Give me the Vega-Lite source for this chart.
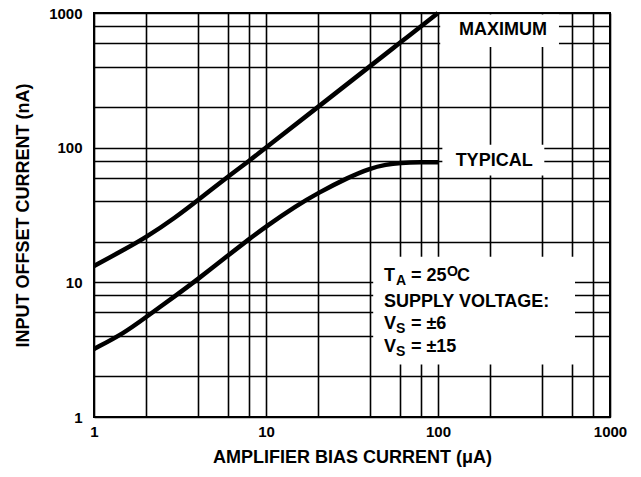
{
  "$schema": "https://vega.github.io/schema/vega-lite/v6.json",
  "width": 516,
  "height": 404,
  "autosize": {"type": "none"},
  "padding": {"left": 94, "top": 13, "right": 31, "bottom": 60},
  "background": "white",
  "config": {
    "view": {"stroke": "black", "strokeWidth": 2},
    "axis": {
      "grid": true, "gridColor": "black", "gridWidth": 1.6, "gridOpacity": 1,
      "domain": false, "ticks": false,
      "labelFont": "Liberation Sans", "labelFontWeight": "bold", "labelFontSize": 15, "labelColor": "black",
      "titleFont": "Liberation Sans", "titleFontWeight": "bold", "titleFontSize": 18, "titleColor": "black",
      "labelFlush": false, "labelOverlap": false
    },
    "text": {"font": "Liberation Sans", "fontWeight": "bold", "color": "black"}
  },
  "datasets": {
    "boxes": [
      {"box": "MAXIMUM", "x": 103, "x2": 505, "y": 560, "y2": 975},
      {"box": "TYPICAL", "x": 106, "x2": 415, "y": 62, "y2": 105},
      {"box": "NOTE", "x": 42, "x2": 626, "y": 2.45, "y2": 15.5}
    ],
    "curves": [
      {"series": "MAXIMUM", "x": 1, "y": 13.2},
      {"series": "MAXIMUM", "x": 1.5, "y": 17.5},
      {"series": "MAXIMUM", "x": 2, "y": 21.5},
      {"series": "MAXIMUM", "x": 3, "y": 30.5},
      {"series": "MAXIMUM", "x": 4, "y": 40.5},
      {"series": "MAXIMUM", "x": 6, "y": 61},
      {"series": "MAXIMUM", "x": 8, "y": 80},
      {"series": "MAXIMUM", "x": 10, "y": 100},
      {"series": "MAXIMUM", "x": 20, "y": 200},
      {"series": "MAXIMUM", "x": 40, "y": 400},
      {"series": "MAXIMUM", "x": 60, "y": 600},
      {"series": "MAXIMUM", "x": 100, "y": 1000},
      {"series": "TYPICAL", "x": 1, "y": 3.2},
      {"series": "TYPICAL", "x": 1.5, "y": 4.2},
      {"series": "TYPICAL", "x": 2, "y": 5.5},
      {"series": "TYPICAL", "x": 3, "y": 8},
      {"series": "TYPICAL", "x": 4, "y": 10.5},
      {"series": "TYPICAL", "x": 6, "y": 15.8},
      {"series": "TYPICAL", "x": 8, "y": 21},
      {"series": "TYPICAL", "x": 10, "y": 26},
      {"series": "TYPICAL", "x": 15, "y": 37},
      {"series": "TYPICAL", "x": 20, "y": 46},
      {"series": "TYPICAL", "x": 30, "y": 60},
      {"series": "TYPICAL", "x": 40, "y": 70},
      {"series": "TYPICAL", "x": 50, "y": 75},
      {"series": "TYPICAL", "x": 60, "y": 77},
      {"series": "TYPICAL", "x": 80, "y": 78},
      {"series": "TYPICAL", "x": 100, "y": 78}
    ],
    "labels": [
      {"text": "MAXIMUM", "x": 239, "y": 748},
      {"text": "TYPICAL", "x": 212, "y": 79}
    ],
    "notes": [
      {"part": "base", "text": "T", "x": 48.5, "y": 10.24},
      {"part": "base", "text": "SUPPLY VOLTAGE:", "x": 48.5, "y": 6.56},
      {"part": "base", "text": "V", "x": 48.5, "y": 4.51},
      {"part": "base", "text": "V", "x": 48.5, "y": 3.04},
      {"part": "sub", "text": "A", "x": 48.5, "y": 10.24},
      {"part": "sub", "text": "S", "x": 48.5, "y": 4.51},
      {"part": "sub", "text": "S", "x": 48.5, "y": 3.04},
      {"part": "eq", "text": "= 25", "x": 48.5, "y": 10.24},
      {"part": "eq", "text": "= ±6", "x": 48.5, "y": 4.51},
      {"part": "eq", "text": "= ±15", "x": 48.5, "y": 3.04},
      {"part": "sup", "text": "O", "x": 48.5, "y": 10.24},
      {"part": "unit", "text": "C", "x": 48.5, "y": 10.24}
    ]
  },
  "encoding": {
    "x": {
      "field": "x", "type": "quantitative",
      "scale": {"type": "log", "domain": [1, 1000], "nice": false},
      "axis": {
        "values": [1, 2, 4, 6, 8, 10, 20, 40, 60, 80, 100, 200, 400, 600, 800, 1000],
        "labelExpr": "indexof([1, 10, 100, 1000], datum.value) >= 0 ? format(datum.value, 'd') : ''",
        "title": "AMPLIFIER BIAS CURRENT (μA)",
        "labelPadding": 7, "titlePadding": 9
      }
    },
    "y": {
      "field": "y", "type": "quantitative",
      "scale": {"type": "log", "domain": [1, 1000], "nice": false},
      "axis": {
        "values": [1, 2, 4, 6, 8, 10, 20, 40, 60, 80, 100, 200, 400, 600, 800, 1000],
        "labelExpr": "indexof([1, 10, 100, 1000], datum.value) >= 0 ? format(datum.value, 'd') : ''",
        "title": "INPUT OFFSET CURRENT (nA)",
        "labelPadding": 12, "titlePadding": 16
      }
    }
  },
  "layer": [
    {
      "data": {"name": "boxes"},
      "mark": {"type": "rect", "fill": "white", "strokeWidth": 0},
      "encoding": {"x2": {"field": "x2"}, "y2": {"field": "y2"}}
    },
    {
      "data": {"name": "curves"},
      "mark": {"type": "line", "color": "black", "strokeWidth": 4.5, "interpolate": "basis"},
      "encoding": {"detail": {"field": "series", "type": "nominal"}}
    },
    {
      "data": {"name": "labels"},
      "mark": {"type": "text", "fontSize": 18, "align": "center", "baseline": "middle"},
      "encoding": {"text": {"field": "text", "type": "nominal"}}
    },
    {
      "data": {"name": "notes"},
      "transform": [{"filter": "datum.part == 'base'"}],
      "mark": {"type": "text", "fontSize": 18, "align": "left", "baseline": "alphabetic"},
      "encoding": {"text": {"field": "text", "type": "nominal"}}
    },
    {
      "data": {"name": "notes"},
      "transform": [{"filter": "datum.part == 'sub'"}],
      "mark": {"type": "text", "fontSize": 14, "align": "left", "baseline": "alphabetic", "dx": 12, "dy": 4},
      "encoding": {"text": {"field": "text", "type": "nominal"}}
    },
    {
      "data": {"name": "notes"},
      "transform": [{"filter": "datum.part == 'eq'"}],
      "mark": {"type": "text", "fontSize": 18, "align": "left", "baseline": "alphabetic", "dx": 27},
      "encoding": {"text": {"field": "text", "type": "nominal"}}
    },
    {
      "data": {"name": "notes"},
      "transform": [{"filter": "datum.part == 'sup'"}],
      "mark": {"type": "text", "fontSize": 14, "align": "left", "baseline": "alphabetic", "dx": 63, "dy": -5},
      "encoding": {"text": {"field": "text", "type": "nominal"}}
    },
    {
      "data": {"name": "notes"},
      "transform": [{"filter": "datum.part == 'unit'"}],
      "mark": {"type": "text", "fontSize": 18, "align": "left", "baseline": "alphabetic", "dx": 73},
      "encoding": {"text": {"field": "text", "type": "nominal"}}
    }
  ]
}
